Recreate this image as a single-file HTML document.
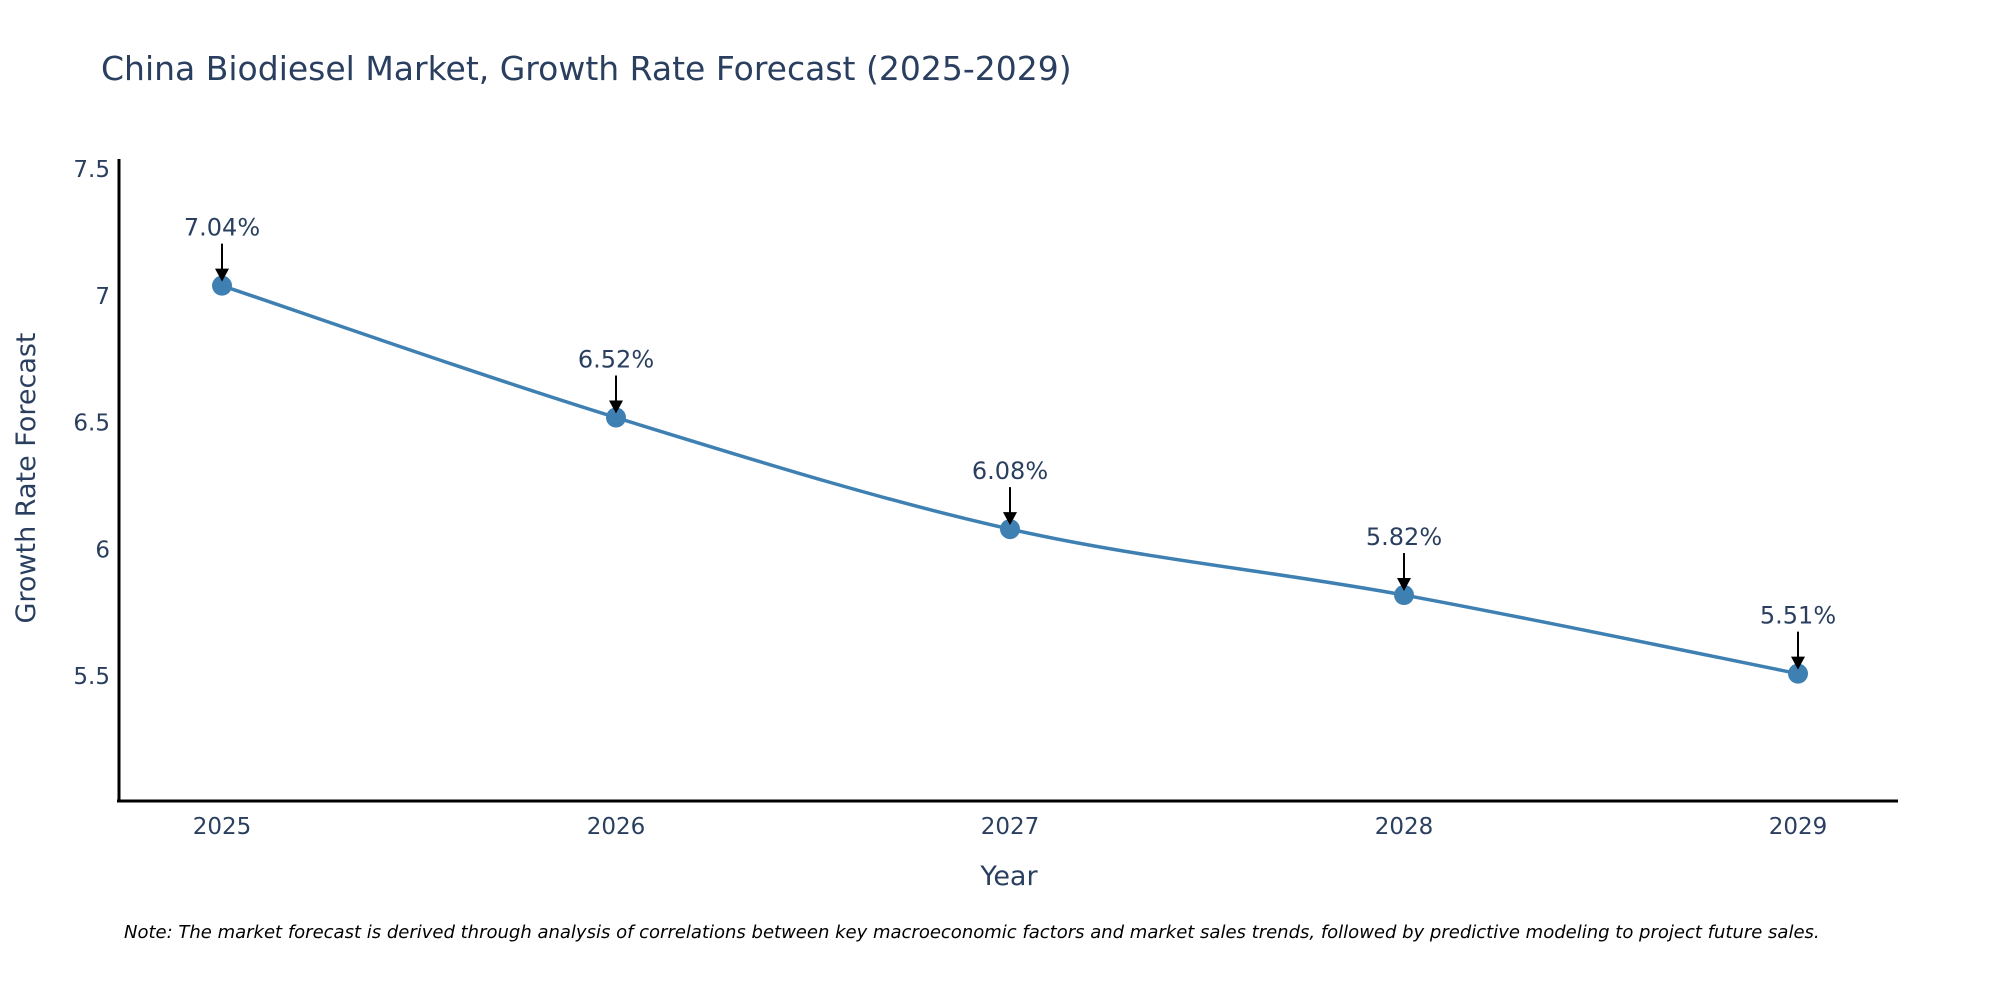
<!DOCTYPE html>
<html><head><meta charset="utf-8"><style>
body{margin:0;background:#fff;}
svg{display:block;font-family:"DejaVu Sans","Liberation Sans",sans-serif;}
</style></head><body>
<svg id="chart" width="2000" height="1000">
<rect width="2000" height="1000" fill="#fff"/>
<text x="101" y="80" font-size="33" fill="#2a3f5f">China Biodiesel Market, Growth Rate Forecast (2025-2029)</text>
<g id="yticks"></g>
<g id="xticks"></g>
<line x1="119" y1="159" x2="119" y2="802" stroke="#000" stroke-width="3"/>
<line x1="117" y1="801" x2="1898" y2="801" stroke="#000" stroke-width="3"/>
<text transform="translate(35,478) rotate(-90)" text-anchor="middle" font-size="27" fill="#2a3f5f">Growth Rate Forecast</text>
<text x="1009" y="885" text-anchor="middle" font-size="27" fill="#2a3f5f">Year</text>
<g id="series"></g>
<text x="124" y="938" font-size="18" font-style="italic" fill="#000">Note: The market forecast is derived through analysis of correlations between key macroeconomic factors and market sales trends, followed by predictive modeling to project future sales.</text>
</svg>
<script>
const years=[2025,2026,2027,2028,2029];
const rates=[7.04,6.52,6.08,5.82,5.51];
const labels=["7.04%","6.52%","6.08%","5.82%","5.51%"];
const yTickVals=[5.5,6,6.5,7,7.5];
const yTickLabels=["5.5","6","6.5","7","7.5"];
const NS="http://www.w3.org/2000/svg";
const xs=v=>222+(v-2025)*394;
const ys=v=>803-(v-5)*253.6;
function mk(tag,attrs,parent){const e=document.createElementNS(NS,tag);for(const k in attrs)e.setAttribute(k,attrs[k]);parent.appendChild(e);return e;}
const yt=document.getElementById('yticks');
yTickVals.forEach((v,i)=>{const t=mk('text',{x:110,y:ys(v)+8,'text-anchor':'end','font-size':23,fill:'#2a3f5f'},yt);


t.textContent=yTickLabels[i];});
const xt=document.getElementById('xticks');
years.forEach(y=>{const t=mk('text',{x:xs(y),y:834,'text-anchor':'middle','font-size':23,fill:'#2a3f5f'},xt);


t.textContent=y;});
const g=document.getElementById('series');
const P=years.map((y,i)=>[xs(y),ys(rates[i])]);
let d='M'+P[0][0]+','+P[0][1];const s=0.5/3;
for(let i=0;i<P.length-1;i++){const p0=P[i-1]||P[i],p1=P[i],p2=P[i+1],p3=P[i+2]||p2;
d+=' C'+(p1[0]+(p2[0]-p0[0])*s)+','+(p1[1]+(p2[1]-p0[1])*s)+' '+(p2[0]-(p3[0]-p1[0])*s)+','+(p2[1]-(p3[1]-p1[1])*s)+' '+p2[0]+','+p2[1];}
const ln=mk('path',{d:d,fill:'none',stroke:'#3f80b3','stroke-width':3.5},g);


P.forEach((p,i)=>{
const c=mk('circle',{cx:p[0],cy:p[1],r:10,fill:'#3f80b3'},g);


const a=mk('line',{x1:p[0],y1:p[1]-42,x2:p[0],y2:p[1]-16,stroke:'#000','stroke-width':2},g);


const h=mk('polygon',{points:(p[0]-7)+','+(p[1]-17)+' '+(p[0]+7)+','+(p[1]-17)+' '+p[0]+','+(p[1]-4)},g);


const t=mk('text',{x:p[0],y:p[1]-50,'text-anchor':'middle','font-size':24,fill:'#2a3f5f'},g);


t.textContent=labels[i];
});
</script>
</body></html>
